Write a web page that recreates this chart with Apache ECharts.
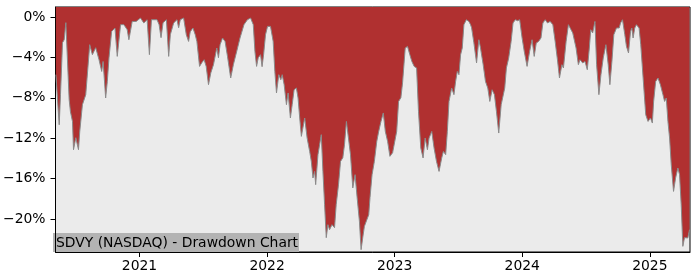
<!DOCTYPE html>
<html>
<head>
<meta charset="utf-8">
<script src="https://cdn.jsdelivr.net/npm/echarts@6/dist/echarts.min.js"></script>
<style>
html,body{margin:0;padding:0;background:#fff;}
#chart{width:700px;height:280px;}
</style>
</head>
<body>
<div id="chart"></div>
<script>
// Dates as decimal years
const dates = [
2020.345,2020.358,2020.371,2020.381,2020.397,2020.410,2020.423,2020.432,2020.449,2020.459,
2020.475,2020.483,2020.501,2020.522,2020.532,2020.553,2020.579,2020.610,2020.631,2020.657,
2020.683,2020.704,2020.715,2020.735,2020.748,2020.761,2020.782,2020.808,2020.826,2020.852,
2020.878,2020.904,2020.917,2020.943,2020.974,2021.008,2021.034,2021.060,2021.078,2021.094,
2021.122,2021.138,2021.154,2021.169,2021.185,2021.211,2021.229,2021.242,2021.268,2021.294,
2021.307,2021.320,2021.346,2021.367,2021.385,2021.398,2021.419,2021.437,2021.450,2021.471,
2021.489,2021.507,2021.523,2021.541,2021.559,2021.580,2021.606,2021.619,2021.632,2021.651,
2021.671,2021.690,2021.715,2021.736,2021.762,2021.788,2021.819,2021.846,2021.871,2021.892,
2021.905,2021.918,2021.931,2021.949,2021.961,2021.973,2021.988,2022.004,2022.027,2022.048,
2022.061,2022.074,2022.092,2022.108,2022.119,2022.134,2022.152,2022.165,2022.183,2022.197,
2022.212,2022.230,2022.243,2022.256,2022.269,2022.295,2022.314,2022.334,2022.347,2022.360,
2022.373,2022.381,2022.399,2022.425,2022.438,2022.451,2022.464,2022.477,2022.490,2022.509,
2022.529,2022.542,2022.560,2022.576,2022.594,2022.607,2022.622,2022.638,2022.654,2022.672,
2022.690,2022.706,2022.724,2022.737,2022.750,2022.763,2022.776,2022.797,2022.807,2022.823,
2022.841,2022.860,2022.875,2022.893,2022.911,2022.927,2022.945,2022.963,2022.984,2022.997,
2023.016,2023.031,2023.049,2023.062,2023.083,2023.101,2023.119,2023.135,2023.153,2023.172,
2023.187,2023.205,2023.223,2023.239,2023.257,2023.270,2023.291,2023.309,2023.328,2023.348,
2023.369,2023.382,2023.400,2023.413,2023.426,2023.447,2023.465,2023.478,2023.491,2023.504,
2023.517,2023.530,2023.543,2023.562,2023.582,2023.595,2023.603,2023.621,2023.642,2023.660,
2023.673,2023.694,2023.712,2023.730,2023.746,2023.764,2023.782,2023.798,2023.816,2023.835,
2023.850,2023.863,2023.876,2023.894,2023.913,2023.928,2023.946,2023.964,2023.980,2023.999,
2024.016,2024.038,2024.058,2024.077,2024.094,2024.110,2024.128,2024.147,2024.162,2024.180,
2024.198,2024.219,2024.240,2024.258,2024.276,2024.292,2024.311,2024.323,2024.344,2024.362,
2024.375,2024.396,2024.422,2024.440,2024.453,2024.474,2024.492,2024.510,2024.526,2024.537,
2024.552,2024.570,2024.583,2024.601,2024.617,2024.635,2024.656,2024.674,2024.687,2024.703,
2024.718,2024.739,2024.760,2024.771,2024.786,2024.804,2024.817,2024.833,2024.849,2024.859,
2024.869,2024.882,2024.895,2024.916,2024.929,2024.942,2024.955,2024.968,2024.986,2025.005,
2025.020,2025.030,2025.046,2025.064,2025.083,2025.103,2025.116,2025.129,2025.142,2025.155,
2025.168,2025.186,2025.202,2025.220,2025.233,2025.246,2025.259,2025.272,2025.285,2025.298,
2025.311
];
// Drawdown in percent
const drawdown = [
-5.71,-8.19,-10.67,-7.69,-2.54,-2.25,-0.56,-0.44,-8.19,-9.38,
-10.34,-13.14,-11.95,-13.14,-11.33,-8.68,-7.69,-2.74,-3.73,-3.04,
-4.23,-5.39,-4.40,-8.02,-6.38,-4.06,-1.43,-1.09,-3.90,-0.76,
-0.76,-1.26,-2.25,-0.44,-0.44,-0.10,-0.59,-0.27,-3.73,-0.27,
-0.27,-0.27,-0.76,-2.05,-0.56,-0.27,-3.90,-1.75,-0.59,-0.27,
-1.06,-0.27,-0.10,-1.75,-2.42,-1.46,-1.09,-1.75,-2.42,-4.89,
-4.52,-4.23,-4.89,-6.70,-5.54,-4.72,-3.07,-4.03,-2.74,-2.08,
-2.42,-3.90,-6.04,-4.72,-3.41,-2.08,-0.76,-0.27,-0.10,-0.76,
-3.41,-4.89,-4.03,-3.73,-4.92,-3.73,-1.75,-0.93,-0.93,-2.42,
-5.39,-7.52,-5.71,-6.21,-5.71,-6.70,-8.68,-7.52,-10.00,-8.68,
-7.20,-7.03,-8.02,-10.00,-11.82,-10.00,-11.98,-13.31,-14.30,-15.94,
-15.29,-16.60,-13.63,-11.65,-15.29,-18.58,-21.85,-20.56,-21.06,-20.56,
-20.86,-18.58,-16.60,-14.30,-13.93,-12.64,-10.34,-11.98,-13.63,-16.93,
-15.61,-17.89,-20.24,-23.04,-21.85,-20.73,-20.56,-19.57,-17.89,-15.61,
-14.30,-12.32,-11.33,-10.34,-9.50,-11.33,-12.32,-13.80,-13.44,-13.63,
-11.33,-8.36,-7.99,-6.53,-3.07,-2.91,-3.73,-4.40,-4.89,-5.05,
-9.35,-12.97,-13.96,-11.98,-13.14,-11.98,-11.33,-12.97,-14.30,-15.29,
-13.96,-13.31,-13.63,-11.33,-8.36,-7.03,-7.69,-6.38,-5.39,-5.71,
-3.73,-3.07,-0.76,-0.27,-0.44,-0.76,-1.06,-2.54,-4.55,-2.25,
-3.07,-4.72,-6.38,-7.03,-8.36,-7.20,-7.69,-9.35,-11.49,-8.68,
-8.68,-7.03,-5.05,-4.06,-2.42,-0.59,-0.27,-0.37,-0.27,-2.08,
-3.41,-4.89,-3.41,-2.25,-3.90,-2.58,-2.42,-2.08,-0.59,-0.27,
-0.59,-0.44,-0.76,-2.42,-4.23,-6.04,-4.72,-5.05,-2.42,-0.76,
-0.59,-1.58,-3.07,-4.72,-4.23,-4.55,-4.40,-5.22,-3.07,-1.26,
-1.58,-0.44,-4.72,-7.69,-5.71,-4.06,-2.74,-4.72,-6.70,-4.40,
-1.75,-1.09,-1.09,-0.59,-0.27,-1.75,-2.91,-3.56,-1.43,-1.09,
-2.08,-1.09,-0.76,-1.09,-2.74,-5.05,-7.37,-9.67,-10.34,-10.00,
-10.50,-8.36,-6.38,-6.04,-6.70,-7.69,-8.36,-8.02,-10.34,-11.98,
-14.63,-17.27,-15.94,-14.95,-15.61,-18.58,-22.71,-21.85,-21.72,-21.88,
-21.06
];
const yearTicks = [2021, 2022, 2023, 2024, 2025];
const pctTicks = [0, -4, -8, -12, -16, -20];
const titleText = 'SDVY (NASDAQ) - Drawdown Chart';

const chart = echarts.init(document.getElementById('chart'), null, {renderer: 'canvas'});
const FONT = 'DejaVu Sans';
const FS = 13.9;
chart.setOption({
  animation: false,
  backgroundColor: '#ffffff',
  grid: {left: 53, right: 10, top: 7, bottom: 28, show: true,
         backgroundColor: '#ebebeb', borderColor: '#000', borderWidth: 1},
  xAxis: {
    type: 'value', min: 2020.342, max: 2025.315,
    splitLine: {show: false},
    axisLine: {show: true, onZero: false, lineStyle: {color: '#000', width: 1}},
    axisTick: {show: true, length: 5, lineStyle: {color: '#000'}, customValues: yearTicks},
    axisLabel: {customValues: yearTicks, color: '#000', fontFamily: FONT, fontSize: FS, margin: 7,
                formatter: v => String(Math.round(v))}
  },
  yAxis: {
    type: 'value', min: -23.27, max: 0.99,
    splitLine: {show: false},
    axisLine: {show: true, onZero: false, lineStyle: {color: '#000', width: 1}},
    axisTick: {show: true, length: 5, lineStyle: {color: '#000'}, customValues: pctTicks},
    axisLabel: {customValues: pctTicks, color: '#000', fontFamily: FONT, fontSize: FS, margin: 10,
                formatter: v => (v < 0 ? '\u2212' : '') + Math.abs(Math.round(v)) + '%'}
  },
  series: [{
    type: 'line',
    data: dates.map((d, i) => [d, drawdown[i]]),
    showSymbol: false,
    symbol: 'none',
    lineStyle: {color: '#8a8a8a', width: 1},
    areaStyle: {color: '#b03030', opacity: 1, origin: 'end'},
    z: 2
  }],
  graphic: [{
    type: 'group', left: 53, top: 233, z: 100,
    children: [
      {type: 'rect', shape: {x: 0, y: 0, width: 246, height: 19}, style: {fill: '#b3b3b3'}},
      {type: 'text', x: 3, y: 10, style: {text: titleText, font: FS + 'px "' + FONT + '"',
        fill: '#000', verticalAlign: 'middle', align: 'left'}}
    ]
  }]
});
</script>
</body>
</html>
